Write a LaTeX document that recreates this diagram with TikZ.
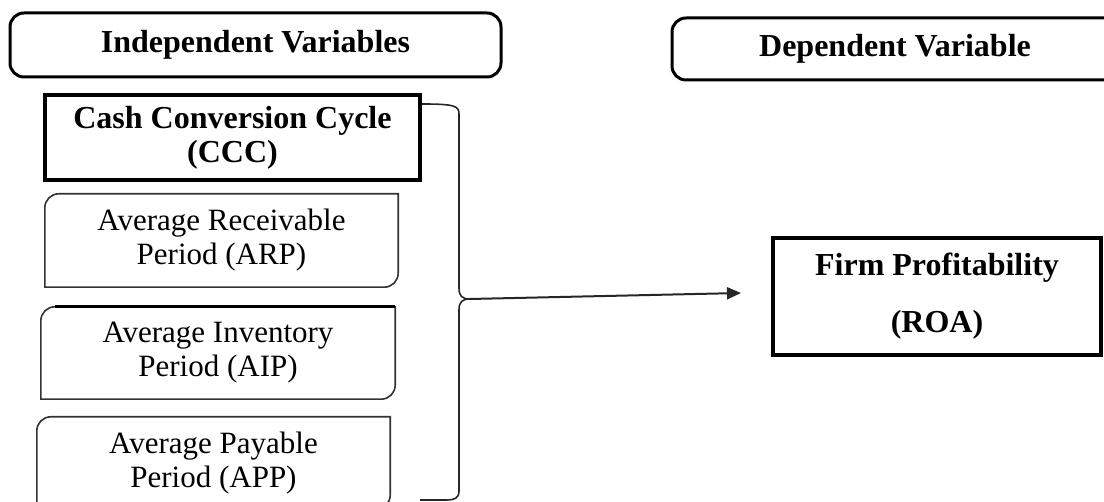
\documentclass[tikz,border=0pt]{standalone}
\usepackage{fontspec}
\setmainfont{Liberation Serif}
\usetikzlibrary{arrows.meta,calc}

% box with rounded top-left and bottom-right corners
\newcommand\diagcornerbox[1]{%
  \draw[thinbox] (#1.south west) -- ([yshift=-14pt]#1.north west)
    arc[start angle=180,end angle=90,radius=14pt] -- (#1.north east)
    -- ([yshift=14pt]#1.south east)
    arc[start angle=0,end angle=-90,radius=14pt] -- cycle;}

\tikzset{
  hdr/.style={draw, line width=3pt, rounded corners=14pt, inner sep=0pt,
    font=\bfseries\fontsize{32}{36}\selectfont},
  thickbox/.style={draw, line width=3.5pt, inner sep=0pt, align=center,
    font=\bfseries\fontsize{32}{34}\selectfont},
  plainbox/.style={inner sep=0pt, align=center,
    font=\fontsize{31}{34}\selectfont},
  thinbox/.style={draw=black!80, line width=1.6pt},
  bracelink/.style={draw=black!85, line width=1.6pt},
  link/.style={draw=black!85, line width=2pt, -{Triangle[length=14pt,width=12pt]}}
}

\begin{document}
\begin{tikzpicture}[x=1pt,y=1pt]
\useasboundingbox (0,0) rectangle (1104,502);
\clip (0,0) rectangle (1104,502);

% headings
\node[hdr, minimum width=491pt, minimum height=64pt] (indep) at (255.5,457) {Independent Variables};
\node[hdr, minimum width=446pt, minimum height=62pt] (dep) at (895,453) {Dependent Variable};

% independent variables
\node[thickbox, minimum width=375pt, minimum height=85pt] (ccc) at (232.5,364.5) {Cash Conversion Cycle\\(CCC)};
\node[plainbox, minimum width=353pt, minimum height=93pt] (arp) at (221.5,261.5) {Average Receivable\\Period (ARP)};
\node[plainbox, minimum width=354pt, minimum height=92pt] (aip) at (218,149) {Average Inventory\\Period (AIP)};
\node[plainbox, minimum width=353pt, minimum height=92pt] (app) at (213.5,39) {Average Payable\\Period (APP)};
\diagcornerbox{arp}
\diagcornerbox{aip}
\diagcornerbox{app}
\draw[line width=2.6pt] ([xshift=14pt]aip.north west) -- (aip.north east);

% dependent variable
\node[thickbox, minimum width=328pt, minimum height=117pt,
      font=\bfseries\fontsize{32}{57}\selectfont] (roa) at (937,205.5) {Firm Profitability\\(ROA)};

% brace grouping the independent variables
\coordinate (btop) at (422,398);
\coordinate (btip) at (470,203);
\coordinate (bbot) at (420,2);
\coordinate (aend) at (741,209);
\draw[bracelink] (btop) .. controls (455,398) and (459,396) .. (459,388)
  -- (459,214) .. controls (459,206) and (462,203) .. (btip)
  .. controls (462,203) and (459,200) .. (459,192)
  -- (459,11) .. controls (459,4) and (455,2) .. (446,2) -- (bbot);
\draw[link] (btip) -- (aend);
\end{tikzpicture}
\end{document}
